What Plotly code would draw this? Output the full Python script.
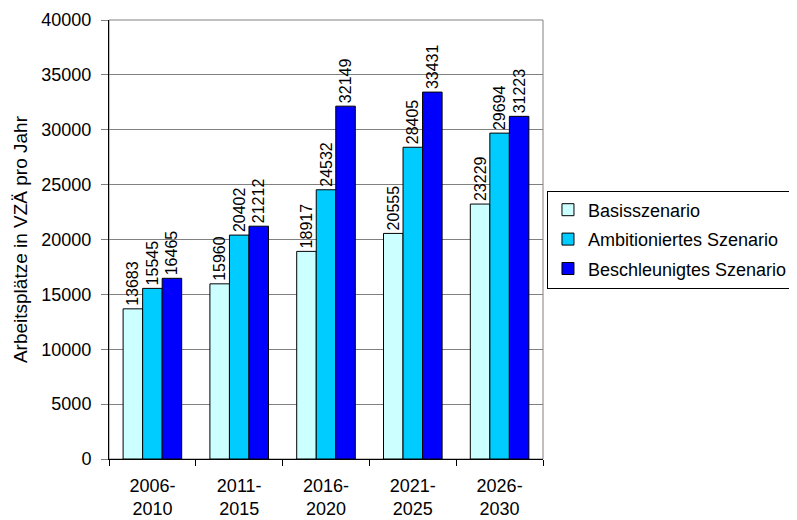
import plotly.graph_objects as go

categories = ["2006-<br>2010", "2011-<br>2015", "2016-<br>2020", "2021-<br>2025", "2026-<br>2030"]
basis = [13683, 15960, 18917, 20555, 23229]
ambitioniert = [15545, 20402, 24532, 28405, 29694]
beschleunigt = [16465, 21212, 32149, 33431, 31223]
series_names = ["Basisszenario", "Ambitioniertes Szenario", "Beschleunigtes Szenario"]
colors = ["#CCFFFF", "#00CCFF", "#0000FF"]
y_title = "Arbeitsplätze in VZÄ pro Jahr"

FONT = "Liberation Sans, Arial, sans-serif"

# page has an 8px body margin; figure runs slightly past the right edge like the reference legend
W, H = 797, 512
L, T, R, B = 101, 12, 259, 61
PW = W - L - R

fig = go.Figure()
for i, (name, vals, col) in enumerate(zip(series_names, [basis, ambitioniert, beschleunigt], colors)):
    fig.add_trace(go.Bar(
        name=name, x=categories, y=vals, legendgroup=f"g{i}",
        marker=dict(color=col, line=dict(color="black", width=1)),
        text=[str(v) for v in vals], textposition="outside", textangle=-90,
        textfont=dict(family=FONT, size=16, color="black"),
        cliponaxis=False, constraintext="none",
    ))

fig.update_layout(
    width=W, height=H,
    margin=dict(l=L, r=R, t=T, b=B),
    paper_bgcolor="white", plot_bgcolor="white",
    barmode="group", bargap=0.325, bargroupgap=0,
    font=dict(family=FONT, size=18, color="black"),
    legend=dict(x=(542 - L) / PW, y=0.5, xanchor="left", yanchor="middle",
                bordercolor="black", borderwidth=1, bgcolor="white",
                font=dict(family=FONT, size=18), traceorder="grouped",
                tracegroupgap=3),
    shapes=[dict(type="rect", xref="paper", yref="paper", x0=0, x1=1, y0=0, y1=1,
                 line=dict(color="#808080", width=1), layer="below")],
    annotations=[dict(text=y_title, xref="paper", yref="paper", x=(12 - L) / PW, y=0.5,
                      xanchor="center", yanchor="middle", textangle=-90, showarrow=False,
                      font=dict(family=FONT, size=19, color="black"))],
)
fig.update_yaxes(range=[0, 40000], dtick=5000, tickformat="d", showgrid=True,
                 gridcolor="#808080", gridwidth=1,
                 showline=True, linecolor="black", linewidth=1,
                 ticks="outside", ticklen=7, tickcolor="#808080",
                 ticklabelstandoff=6, ticklabeloverflow="allow",
                 tickfont=dict(size=18), zeroline=False, automargin=False)
fig.update_xaxes(showline=True, linecolor="black", linewidth=1,
                 ticks="outside", tickson="boundaries", ticklen=6, tickcolor="black",
                 ticklabelstandoff=10,
                 tickfont=dict(size=18), automargin=False)

fig.write_html("out.html")
